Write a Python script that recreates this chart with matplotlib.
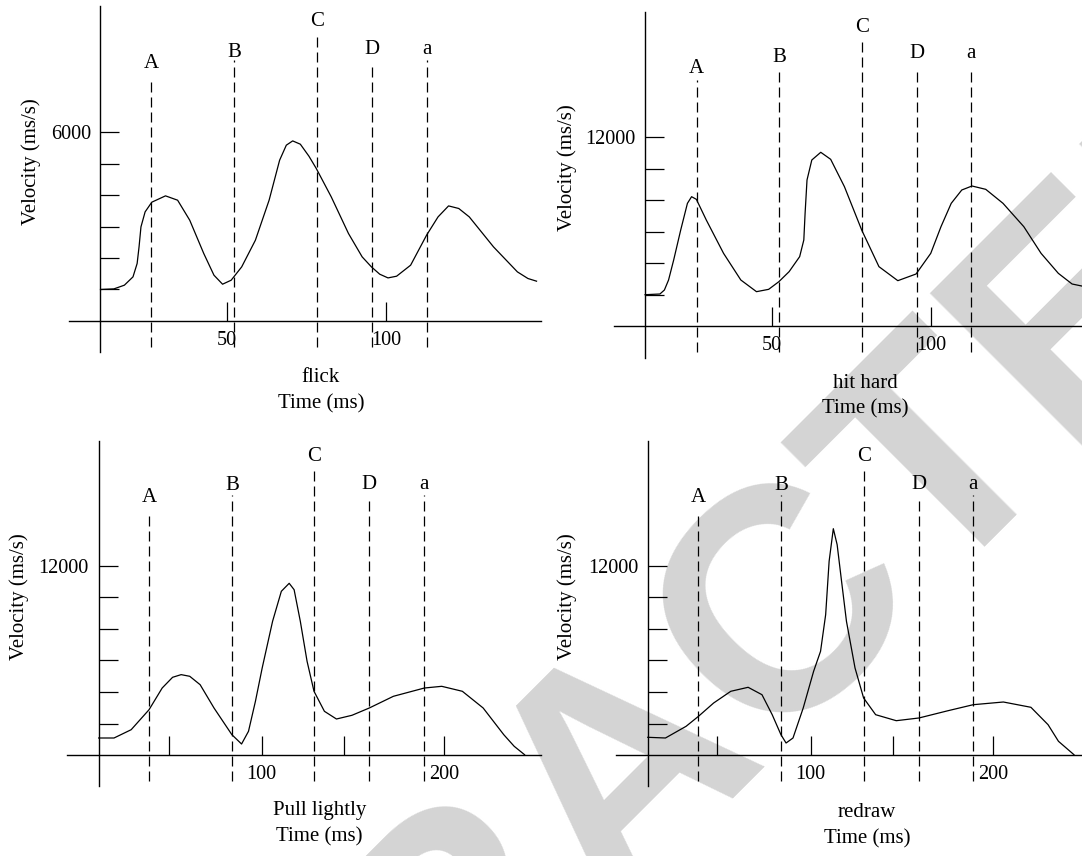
import numpy as np
import matplotlib.pyplot as plt

plt.rcParams['font.family'] = ['Liberation Serif', 'DejaVu Serif']
plt.rcParams['font.size'] = 15

W, H = 1082, 856

######## Data (time in ms, velocity in ms/s) ########

mark_names = ['A', 'B', 'C', 'D', 'a']

## flick ##
flick_t = [10.4, 14.6, 17.9, 20.6, 21.9, 22.5, 23.1, 24.4, 26.5, 30.8, 34.6, 38.4, 42.8, 46.0,
           48.7, 51.4, 54.7, 59.0, 63.3, 66.6, 68.7, 70.7, 73.1, 75.8, 78.1, 82.8, 88.2, 92.5,
           95.4, 98.0, 100.6, 103.3, 107.7, 112.7, 116.3, 119.6, 122.8, 126.1, 133.7, 141.2,
           144.5, 147.2]
flick_v = [1000, 1019, 1137, 1401, 1826, 2353, 2988, 3464, 3772, 3973, 3835, 3200, 2143, 1454,
           1168, 1295, 1718, 2565, 3835, 5105, 5582, 5718, 5613, 5232, 4842, 3940, 2778, 2035,
           1718, 1486, 1368, 1422, 1772, 2724, 3305, 3654, 3572, 3305, 2353, 1559, 1349, 1264]
flick_marks = [26.3, 52.3, 78.2, 95.5, 112.7]
flick_mark_top = [7747, 8287, 9176, 8128, 8287]
flick_mark_text = [8017, 8385, 9360, 8470, 8470]

## hit hard ##
hit_t = [10.45, 15.1, 16.5, 17.8, 19.4, 21.6, 23.7, 25.0, 26.5, 29.6, 35.0, 40.4, 45.3, 49.1,
         52.3, 55.5, 58.8, 60.1, 60.5, 61.1, 62.6, 65.4, 68.5, 72.8, 78.2, 83.6, 89.5, 95.2,
         99.8, 103.0, 106.2, 109.5, 112.7, 117.0, 122.4, 128.9, 134.3, 139.7, 144.0, 147.0]
hit_v = [1988, 2032, 2286, 2921, 4191, 6096, 7789, 8211, 8043, 6731, 4614, 2921, 2180, 2328,
         2815, 3450, 4403, 5461, 7154, 9271, 10541, 11030, 10584, 8848, 6096, 3768, 2878, 3302,
         4614, 6308, 7789, 8636, 8890, 8678, 7789, 6308, 4614, 3344, 2667, 2540]
hit_marks = [26.6, 52.4, 78.3, 95.6, 112.5]
hit_mark_top = [15621, 16466, 18269, 16148, 16466]
hit_mark_text = [16046, 16783, 18650, 16999, 16999]

## Pull lightly ##
pull_t = [10.7, 19.1, 28.5, 38.3, 45.5, 51.2, 55.9, 60.6, 66.3, 73.9, 83.7, 89.0, 92.8, 96.6,
          100.3, 106.0, 110.8, 115.1, 117.8, 121.2, 124.9, 128.7, 134.4, 141.0, 149.5, 159.0,
          172.2, 189.2, 198.7, 210.0, 221.4, 232.7, 238.4, 244.1]
pull_v = [1095, 1095, 1620, 2886, 4259, 4937, 5105, 5000, 4468, 2994, 1304, 715, 1519, 3418,
          5525, 8481, 10380, 10886, 10481, 8481, 5949, 4051, 2785, 2297, 2532, 2994,
          3734, 4259, 4366, 4051, 2994, 1304, 570, 38]
pull_marks = [38.3, 83.7, 128.7, 159.0, 189.2]
pull_mark_top = [15443, 16493, 18228, 16177, 16493]
pull_mark_text = [16031, 16772, 18645, 16873, 16873]

## redraw ##
redraw_t = [10.8, 20.5, 31.8, 38.6, 46.9, 56.3, 65.8, 73.4, 79.0, 83.8, 86.6, 90.4, 96.0, 101.7,
            105.5, 108.3, 110.2, 112.5, 114.6, 116.8, 119.7, 124.4, 129.1, 135.7, 147.0, 159.4,
            175.4, 189.2, 205.7, 220.8, 230.2, 235.9, 244.4]
redraw_v = [1139, 1095, 1835, 2468, 3310, 4051, 4304, 3835, 2570, 1304, 778, 1095, 2994, 5316,
            6582, 8899, 12278, 14342, 13329, 11222, 8481, 5525, 3627, 2570, 2190, 2361,
            2823, 3203, 3373, 3038, 1937, 886, 38]
redraw_marks = [38.6, 83.8, 129.1, 159.4, 189.2]
redraw_mark_top = [15443, 16493, 18228, 16177, 16493]
redraw_mark_text = [16031, 16772, 18645, 16873, 16873]

## axis ticks ##
short_xticks = [50, 100]
short_xlabels = ['50', '100']
long_xticks = [49, 100, 145, 200]
long_xlabels = ['', '100', '', '200']
flick_yticks = [1000, 2000, 3000, 4000, 5000, 6000]
big_yticks = [2000, 4000, 6000, 8000, 10000, 12000]

########### End of data ###########


def draw_panel(ax, t, v, marks, mark_top, mark_text, mark_bottom, yaxis_at,
               xticks, xlabels, yticks, name, ylab_x, xlab_x, xlab_y):
    ax.patch.set_visible(False)
    ax.plot(t, v, color='black', lw=0.9, solid_joinstyle='round')
    ax.vlines(marks, mark_bottom, mark_top, colors='black', lw=0.9, linestyles=(0, (8, 4)))
    for m, top, lab in zip(marks, mark_text, mark_names):
        ax.text(m, top, lab, ha='center', va='baseline')

    ## axes drawn as crossing lines ##
    for s in ['top', 'right']:
        ax.spines[s].set_visible(False)
    ax.spines['left'].set_position(('data', yaxis_at))
    ax.spines['bottom'].set_position(('data', 0))
    for s in ['left', 'bottom']:
        ax.spines[s].set_linewidth(1.0)

    ax.set_xticks(xticks)
    ax.set_xticklabels(xlabels)
    ax.set_yticks(yticks)
    ax.set_yticklabels([''] * (len(yticks) - 1) + [str(yticks[-1])])
    ax.tick_params(direction='in', length=13.5, width=0.9, pad=7, labelsize=14.6)

    ax.set_ylabel('Velocity (ms/s)')
    ax.yaxis.set_label_coords(ylab_x, 0.55)
    ax.set_xlabel(name + '\nTime (ms)', linespacing=1.5)
    ax.xaxis.set_label_coords(xlab_x, xlab_y)


fig = plt.figure(figsize=(W / 100, H / 100), dpi=100)

# watermark across the page
fig.text(0.633, 0.035, 'RETRACTED', rotation=45, rotation_mode='anchor', ha='center',
         va='baseline', fontsize=228, fontweight='bold', family='Liberation Sans',
         color='#d4d4d4', zorder=-1)


def add_panel(left, top, right, bottom):
    return fig.add_axes([left / W, 1 - bottom / H, (right - left) / W, (bottom - top) / H])


ax1 = add_panel(69.4, 6, 541, 351.7)
ax1.set_xlim(0.65, 148.6)
ax1.set_ylim(-975, 10001)
draw_panel(ax1, flick_t, flick_v, flick_marks, flick_mark_top, flick_mark_text, -825, 10.4,
           short_xticks, short_xlabels, flick_yticks, 'flick', -0.061, 0.533, -0.048)

ax2 = add_panel(614.2, 11.7, 1082, 358.3)
ax2.set_xlim(0.8, 147.1)
ax2.set_ylim(-2051, 19958)
draw_panel(ax2, hit_t, hit_v, hit_marks, hit_mark_top, hit_mark_text, -1632, 10.5,
           short_xticks, short_xlabels, big_yticks, 'hit hard', -0.079, 0.537, -0.044)

ax3 = add_panel(67.3, 440.7, 541, 786.3)
ax3.set_xlim(-6.5, 253.1)
ax3.set_ylim(-1962, 19911)
draw_panel(ax3, pull_t, pull_v, pull_marks, pull_mark_top, pull_mark_text, -1646, 10.7,
           long_xticks, long_xlabels, big_yticks, 'Pull lightly', -0.080, 0.532, -0.043)

ax4 = add_panel(616.2, 440.7, 1082, 786.3)
ax4.set_xlim(-6.5, 248.8)
ax4.set_ylim(-1962, 19911)
draw_panel(ax4, redraw_t, redraw_v, redraw_marks, redraw_mark_top, redraw_mark_text, -1646, 10.8,
           long_xticks, long_xlabels, big_yticks, 'redraw', -0.085, 0.539, -0.049)

fig.savefig('out.png', dpi=100)
